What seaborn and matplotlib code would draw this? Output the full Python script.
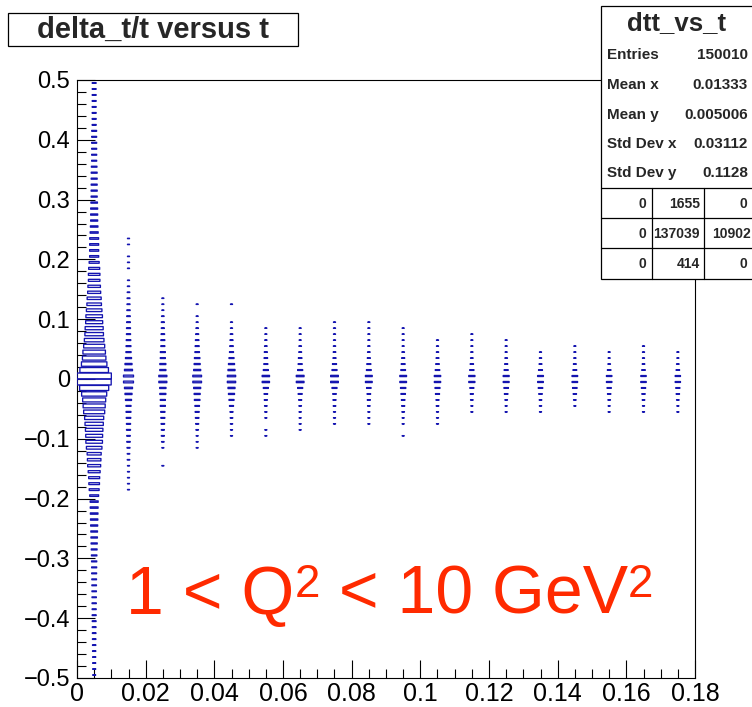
import numpy as np
import pandas as pd
import matplotlib
matplotlib.use("Agg")
import matplotlib.pyplot as plt
import seaborn as sns
from matplotlib.path import Path
from matplotlib.patches import Rectangle
from matplotlib.ticker import MultipleLocator, FuncFormatter

sns.set_theme(style="white")
plt.rcParams["font.family"] = ["Liberation Sans", "DejaVu Sans"]
plt.rcParams["axes.unicode_minus"] = True

# ---- histogram binning: t in 18 bins of 0.01, delta_t/t in 100 bins of 0.01
T_BIN = 0.01
Y_BIN = 0.01
t_centers = [0.005, 0.015, 0.025, 0.035, 0.045, 0.055, 0.065, 0.075, 0.085,
             0.095, 0.105, 0.115, 0.125, 0.135, 0.145, 0.155, 0.165, 0.175]
# centre of the lowest filled delta_t/t bin in each t column
col_low = [-0.495, -0.185, -0.145, -0.115, -0.095, -0.095, -0.085, -0.075, -0.075,
           -0.095, -0.075, -0.055, -0.055, -0.055, -0.045, -0.055, -0.055, -0.055]

# bin contents, bottom to top, per t column
col01 = [85, 90, 92, 95, 105, 110, 120, 130, 140, 150, 160, 165, 180, 190, 200, 210,
         220, 240, 255, 270, 300, 340, 380, 420, 450, 500, 540, 580, 620, 650, 800,
         1000, 1150, 1230, 1450, 1720, 1850, 2000, 2450, 2800, 2900, 3100, 3400, 3700,
         4500, 4950, 5400, 6400, 8600, 11800,
         12000, 8300, 6600, 5600, 5150, 4500, 3900, 3500, 3300, 2950, 2780, 2450, 2150,
         2000, 1720, 1590, 1350, 1350, 1230, 1020, 830, 830, 820, 800, 650, 570, 500,
         500, 490, 430, 370, 370, 360, 360, 350, 310, 255, 255, 250, 250, 245, 240,
         165, 163, 160, 160, 158, 155, 150, 150]
col02 = [41, 41, 41, 41, 41, 64, 64, 92, 120, 125, 163, 170, 207, 240, 255, 370, 500,
         650, 1000, 1020, 650, 500, 370, 270, 240, 207, 170, 160, 140, 125, 110, 92,
         80, 64, 50, 41, 0, 41, 41, 41, 0, 41, 41]
col03 = [41, 0, 0, 41, 64, 92, 92, 125, 163, 180, 255, 260, 370, 400, 650, 660, 380,
         370, 255, 250, 163, 160, 125, 92, 92, 64, 41, 41, 41]
col04 = [41, 41, 41, 64, 92, 125, 163, 207, 310, 370, 500, 770, 780, 500, 370, 300,
         207, 163, 125, 92, 64, 41, 41, 0, 41]
col05 = [41, 41, 50, 64, 92, 163, 255, 370, 500, 700, 700, 500, 370, 255, 163, 125,
         92, 64, 41, 41, 0, 0, 41]
col06 = [41, 41, 0, 41, 50, 64, 92, 125, 255, 540, 550, 255, 163, 125, 92, 64, 50, 41, 41]
col07 = [41, 41, 41, 50, 64, 92, 163, 255, 600, 610, 255, 163, 125, 80, 64, 41, 41, 41]
col08 = [41, 41, 41, 64, 92, 125, 255, 600, 600, 255, 163, 92, 64, 50, 41, 41, 41, 41]
col09 = [41, 41, 41, 64, 92, 125, 200, 460, 470, 230, 163, 92, 64, 50, 41, 41, 41, 41]
col10 = [41, 0, 41, 41, 64, 92, 125, 200, 280, 450, 460, 220, 150, 92, 64, 41, 41, 41, 41]
col11 = [41, 41, 41, 64, 92, 163, 250, 400, 410, 200, 125, 80, 50, 41, 41]
col12 = [41, 41, 64, 92, 163, 380, 390, 180, 110, 64, 50, 41, 41, 41]
col13 = [41, 41, 64, 125, 200, 350, 360, 163, 92, 64, 41, 41, 41]
col14 = [41, 50, 64, 125, 200, 330, 340, 150, 80, 50, 41]
col15 = [41, 64, 110, 200, 310, 320, 140, 80, 50, 41, 41]
col16 = [41, 41, 64, 110, 180, 300, 300, 125, 64, 41, 41]
col17 = [41, 41, 64, 110, 180, 300, 290, 125, 64, 41, 41, 41]
col18 = [41, 41, 64, 110, 170, 280, 280, 120, 64, 41, 41]
columns = [col01, col02, col03, col04, col05, col06, col07, col08, col09,
           col10, col11, col12, col13, col14, col15, col16, col17, col18]

# statistics panel
stats_title = "dtt_vs_t"
stats_rows = [("Entries", "150010"), ("Mean x", "0.01333"), ("Mean y", "0.005006"),
              ("Std Dev x", "0.03112"), ("Std Dev y", "0.1128")]
overflow = [["0", "1655", "0"], ["0", "137039", "10902"], ["0", "414", "0"]]

title = "delta_t/t versus t"
# Q^2 range label, as (text, is_superscript) pieces
label_parts = [("1 < Q", False), ("2", True), (" < 10 GeV", False), ("2", True)]

rows = []
for t, lo, counts in zip(t_centers, col_low, columns):
    for k, c in enumerate(counts):
        if c > 0:
            rows.append((t, lo + k * Y_BIN, c))
df = pd.DataFrame(rows, columns=["t", "dtt", "count"])

W, H, DPI = 752, 707, 100
fig = plt.figure(figsize=(W / DPI, H / DPI), dpi=DPI)
fig.patch.set_facecolor("white")
x0, x1, y0, y1 = 77, 695, 80, 678
ax = fig.add_axes([x0 / W, 1 - y1 / H, (x1 - x0) / W, (y1 - y0) / H])
ax.set_facecolor("white")

# one cell in pixels -> box marker with the cell's aspect ratio
cell_w = (x1 - x0) * T_BIN / 0.18
cell_h = (y1 - y0) * Y_BIN / 1.0
box = Path([(-cell_w / 2, -cell_h / 2), (cell_w / 2, -cell_h / 2),
            (cell_w / 2, cell_h / 2), (-cell_w / 2, cell_h / 2), (0, 0)],
           [Path.MOVETO, Path.LINETO, Path.LINETO, Path.LINETO, Path.CLOSEPOLY])
cmax = df["count"].max()
s_max = (cell_w * 72 / DPI) ** 2  # box area proportional to content

BOX_COLOR = "#1414b0"
sns.scatterplot(data=df, x="t", y="dtt", size="count", sizes=(0, s_max),
                size_norm=(0, cmax), marker=box, color=BOX_COLOR,
                facecolor="none", edgecolor=BOX_COLOR, linewidth=0.95,
                legend=False, ax=ax, zorder=3)
for coll in ax.collections:
    coll.set_snap(False)
ax.set_xlim(0, 0.18)
ax.set_ylim(-0.5, 0.5)
ax.set_xlabel("")
ax.set_ylabel("")

ax.xaxis.set_major_locator(MultipleLocator(0.02))
ax.xaxis.set_minor_locator(MultipleLocator(0.005))
ax.yaxis.set_major_locator(MultipleLocator(0.1))
ax.yaxis.set_minor_locator(MultipleLocator(0.02))
fmt = FuncFormatter(lambda v, p: ("%g" % round(v, 4)).replace("-", "\u2212"))
ax.xaxis.set_major_formatter(fmt)
ax.yaxis.set_major_formatter(fmt)
ax.tick_params(which="major", direction="in", length=13, width=0.8, color="black",
               labelsize=17, labelcolor="black", bottom=True, left=True,
               top=False, right=False)
ax.tick_params(axis="x", which="major", pad=3)
ax.tick_params(axis="y", which="major", pad=5)
ax.tick_params(which="minor", direction="in", length=6.5, width=0.8, color="black",
               bottom=True, left=True, top=False, right=False)
for lab in ax.get_xticklabels():
    lab.set_family(["Liberation Sans Narrow", "Liberation Sans"])
    lab.set_fontsize(18)
for sp in ax.spines.values():
    sp.set_visible(True)
    sp.set_color("black")
    sp.set_linewidth(0.8)

# overlay in pixel coordinates for the title, stats panel and label
ov = fig.add_axes([0, 0, 1, 1], zorder=10)
ov.set_xlim(0, W)
ov.set_ylim(H, 0)
ov.axis("off")
ov.patch.set_alpha(0)

ov.add_patch(Rectangle((8, 13), 290, 33, facecolor="white", edgecolor="black", lw=0.9))
ov.text(153, 30, title, fontsize=21, fontweight="bold", ha="center", va="center")

sx0, sy0, sx1, sy1 = 601, 6, 760, 279
ov.add_patch(Rectangle((sx0, sy0), sx1 - sx0, sy1 - sy0, facecolor="white",
                       edgecolor="black", lw=0.9))
ov.text(677, 23, stats_title, fontsize=18.5, fontweight="bold", ha="center", va="center")
row_y = [55, 85, 115, 144, 173]
for (name, val), yy in zip(stats_rows, row_y):
    ov.text(607, yy, name, fontsize=11, fontweight="bold", ha="left", va="center")
    ov.text(748, yy, val, fontsize=11, fontweight="bold", ha="right", va="center")
for yy in [188, 218, 248]:
    ov.plot([sx0, sx1], [yy, yy], color="black", lw=0.9)
for xx in [652, 704]:
    ov.plot([xx, xx], [188, sy1], color="black", lw=0.9)
cell_right = [[646, 700, 747], [646, 700, 751], [646, 700, 747]]
for r, xs, yy in zip(overflow, cell_right, [204, 234, 264]):
    for txt, xr in zip(r, xs):
        ov.text(xr, yy, txt, fontsize=10, fontweight="bold", ha="right", va="center")

# red Q^2 label, pieces laid out left to right on one baseline
RED = "#ff2a00"
fs_main, fs_sup, raise_px = 49, 33, 17
renderer = fig.canvas.get_renderer()
pieces = []
total = 0.0
for txt, sup in label_parts:
    t = ov.text(0, 0, txt, fontsize=fs_sup if sup else fs_main, color=RED,
                ha="left", va="baseline")
    w = t.get_window_extent(renderer).width
    pieces.append((t, w, sup))
    total += w
xpos = 390 - total / 2
baseline = 614
for t, w, sup in pieces:
    t.set_position((xpos, baseline - (raise_px if sup else 0)))
    xpos += w

fig.savefig("out.png", dpi=DPI, facecolor="white")
